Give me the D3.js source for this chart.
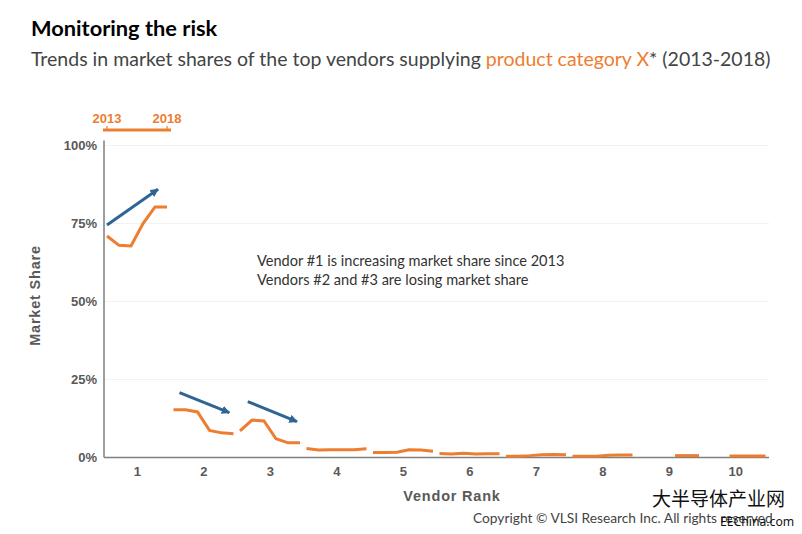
<!DOCTYPE html>
<html>
<head>
<meta charset="utf-8">
<script src="https://cdn.jsdelivr.net/npm/d3@7"></script>
<style>
  html, body { margin: 0; padding: 0; background: #fff; }
  svg { display: block; }
</style>
</head>
<body>
<script>
const vendors = [1, 2, 3, 4, 5, 6, 7, 8, 9, 10];
const years = [2013, 2014, 2015, 2016, 2017, 2018];
const shareTicks = [0, 25, 50, 75, 100];

// one row per vendor, null where no share was reported
const vendor1 = [71, 68, 67.8, 75, 80.3, 80.3];
const vendor2 = [15.3, 15.3, 14.6, 8.7, 7.9, 7.6];
const vendor3 = [8.5, 12, 11.7, 6, 4.7, 4.7];
const vendor4 = [2.9, 2.4, 2.5, 2.5, 2.5, 2.8];
const vendor5 = [1.6, 1.6, 1.7, 2.5, 2.4, 2.0];
const vendor6 = [1.3, 1.1, 1.4, 1.1, 1.2, 1.2];
const vendor7 = [0.4, 0.4, 0.6, 0.9, 1.0, 0.9];
const vendor8 = [0.4, 0.4, 0.4, 0.7, 0.8, 0.8];
const vendor9 = [null, null, null, 0.6, 0.6, 0.6];
const vendor10 = [null, null, 0.5, 0.5, 0.5, 0.5];
const shares = [vendor1, vendor2, vendor3, vendor4, vendor5, vendor6, vendor7, vendor8, vendor9, vendor10];

// trend arrows, in chart units: vendor, from year/share, to year/share
const trendArrows = [
  { vendor: 1, y0: 2013, s0: 74.5, y1: 2017.25, s1: 86 },
  { vendor: 2, y0: 2013.5, s0: 20.8, y1: 2017.65, s1: 14.4 },
  { vendor: 3, y0: 2013.65, s0: 17.9, y1: 2017.75, s1: 11.5 }
];

const noteLines = [
  "Vendor #1 is increasing market share since 2013",
  "Vendors #2 and #3 are losing market share"
];

const orange = "#ed7d31";
const blue = "#2e6594";
const grey = "#595959";
const bodyFont = "Lato, 'Noto Sans', sans-serif";
const axisFont = "'Liberation Sans', Arial, sans-serif";

const width = 802, height = 534;
const margin = { top: 145.5, right: 33, bottom: 76.5, left: 104 };

const svg = d3.select("body").append("svg")
  .attr("width", width)
  .attr("height", height)
  .attr("viewBox", [0, 0, width, height]);

const x = d3.scaleBand().domain(vendors).range([margin.left, width - margin.right]);
const y = d3.scaleLinear().domain([0, 100]).range([height - margin.bottom, margin.top]);
const yearX = d3.scaleLinear().domain(d3.extent(years)).range([3, x.bandwidth() - 3.5]);

svg.append("defs").append("marker")
  .attr("id", "head")
  .attr("viewBox", "0 0 10 10")
  .attr("refX", 9).attr("refY", 5)
  .attr("markerWidth", 2.8).attr("markerHeight", 2.8)
  .attr("orient", "auto")
  .append("path")
  .attr("d", "M0,0L10,5L0,10Z")
  .attr("fill", blue);

// titles
svg.append("text")
  .attr("x", 31).attr("y", 36)
  .attr("font-family", bodyFont).attr("font-weight", 700)
  .attr("font-size", 21.8).attr("fill", "#000")
  .text("Monitoring the risk");

const sub = svg.append("text")
  .attr("x", 31).attr("y", 66)
  .attr("font-family", bodyFont).attr("font-size", 19.5).attr("fill", "#444");
sub.append("tspan").text("Trends in market shares of the top vendors supplying ");
sub.append("tspan").attr("fill", orange).text("product category X");
sub.append("tspan").text("* (2013-2018)");

// gridlines
svg.append("g")
  .selectAll("line")
  .data(shareTicks.slice(1))
  .join("line")
  .attr("x1", margin.left).attr("x2", width - margin.right)
  .attr("y1", d => y(d)).attr("y2", d => y(d))
  .attr("stroke", "#f2f2f2");

// axes
const yAxis = svg.append("g")
  .attr("transform", `translate(${margin.left},0)`)
  .call(d3.axisLeft(y).tickValues(shareTicks).tickFormat(d => d + "%").tickSize(0).tickPadding(7));
yAxis.select(".domain").remove();

const xAxis = svg.append("g")
  .attr("transform", `translate(0,${y(0)})`)
  .call(d3.axisBottom(x).tickSize(0).tickPadding(9));
xAxis.select(".domain").remove();

svg.selectAll(".tick text")
  .attr("font-family", axisFont).attr("font-weight", 700)
  .attr("font-size", 13).attr("fill", grey);

svg.append("line")
  .attr("x1", margin.left).attr("x2", margin.left)
  .attr("y1", y(100) - 5).attr("y2", y(0))
  .attr("stroke", "#7f7f7f").attr("stroke-width", 1.5);
svg.append("line")
  .attr("x1", margin.left).attr("x2", width - margin.right)
  .attr("y1", y(0)).attr("y2", y(0))
  .attr("stroke", "#7f7f7f").attr("stroke-width", 1.5);

svg.append("text")
  .attr("transform", `translate(40,${y(50) - 6}) rotate(-90)`)
  .attr("text-anchor", "middle")
  .attr("font-family", axisFont).attr("font-weight", 700)
  .attr("font-size", 14.5).attr("letter-spacing", 0.8).attr("fill", grey)
  .text("Market Share");

svg.append("text")
  .attr("x", 452).attr("y", 501)
  .attr("text-anchor", "middle")
  .attr("font-family", axisFont).attr("font-weight", 700)
  .attr("font-size", 14.5).attr("letter-spacing", 0.8).attr("fill", grey)
  .text("Vendor Rank");

// share lines, one short line per vendor band
const line = d3.line()
  .defined(d => d.share !== null)
  .x(d => d.x)
  .y(d => y(d.share));

svg.append("g")
  .selectAll("path")
  .data(vendors)
  .join("path")
  .attr("fill", "none")
  .attr("stroke", orange)
  .attr("stroke-width", 3)
  .attr("d", (v, i) => line(years.map((yr, j) => ({ x: x(v) + yearX(yr), share: shares[i][j] }))));

// trend arrows
svg.append("g")
  .selectAll("line")
  .data(trendArrows)
  .join("line")
  .attr("x1", d => x(d.vendor) + yearX(d.y0))
  .attr("y1", d => y(d.s0))
  .attr("x2", d => x(d.vendor) + yearX(d.y1))
  .attr("y2", d => y(d.s1))
  .attr("stroke", blue)
  .attr("stroke-width", 3)
  .attr("marker-end", "url(#head)");

// 2013-2018 key above the first band
const keyY = 130;
svg.append("line")
  .attr("x1", x(1) + yearX(2013) - 4).attr("x2", x(1) + yearX(2018) + 4)
  .attr("y1", keyY).attr("y2", keyY)
  .attr("stroke", orange).attr("stroke-width", 3);
svg.append("g")
  .selectAll("line")
  .data(d3.extent(years))
  .join("line")
  .attr("x1", d => x(1) + yearX(d)).attr("x2", d => x(1) + yearX(d))
  .attr("y1", keyY - 4).attr("y2", keyY)
  .attr("stroke", orange).attr("stroke-width", 1.2);
svg.append("g")
  .selectAll("text")
  .data(d3.extent(years))
  .join("text")
  .attr("x", d => x(1) + yearX(d))
  .attr("y", keyY - 7.5)
  .attr("text-anchor", "middle")
  .attr("font-family", axisFont).attr("font-weight", 700)
  .attr("font-size", 13).attr("fill", orange)
  .text(d => d);

// note
svg.append("g")
  .selectAll("text")
  .data(noteLines)
  .join("text")
  .attr("x", 257)
  .attr("y", (d, i) => 266 + i * 19)
  .attr("font-family", bodyFont).attr("font-size", 14.55).attr("fill", "#333")
  .text(d => d);

// footer
svg.append("text")
  .attr("x", 473).attr("y", 523)
  .attr("font-family", bodyFont).attr("font-size", 13.75).attr("fill", "#444")
  .text("Copyright © VLSI Research Inc. All rights reserved");

svg.append("text")
  .attr("x", 652).attr("y", 506)
  .attr("font-family", "'Noto Sans CJK SC', sans-serif").attr("font-size", 19).attr("fill", "#111")
  .text("大半导体产业网");

svg.append("text")
  .attr("x", 720).attr("y", 526)
  .attr("font-family", "'Noto Sans', sans-serif").attr("font-size", 12.2).attr("fill", "#111")
  .text("EEChina.com");
</script>
</body>
</html>
